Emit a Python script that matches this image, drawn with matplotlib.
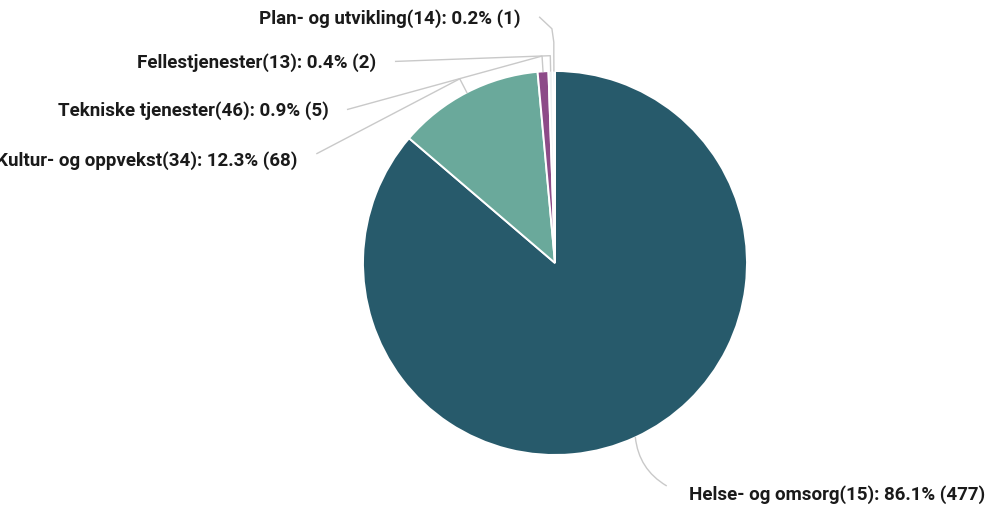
import numpy as np
import matplotlib
matplotlib.use("Agg")
import matplotlib.pyplot as plt

# data
labels = [
    "Helse- og omsorg(15): 86.1% (477)",
    "Kultur- og oppvekst(34): 12.3% (68)",
    "Tekniske tjenester(46): 0.9% (5)",
    "Fellestjenester(13): 0.4% (2)",
    "Plan- og utvikling(14): 0.2% (1)",
]
counts = [477, 68, 5, 2, 1]
colors = ["#275a6b", "#6aa99b", "#8d4b88", "#eef2f3", "#a5d8e3"]

# label anchors (data units, pie radius = 1), right end of text
label_pos = [
    (0.70, -1.20),
    (-1.34, 0.54),
    (-1.18, 0.80),
    (-0.93, 1.05),
    (-0.18, 1.28),
]

plt.rcParams["font.family"] = ["Roboto", "DejaVu Sans"]

fig = plt.figure(figsize=(9.88, 5.10), dpi=100)
ax = fig.add_axes([363 / 988, 54 / 510, 384 / 988, 384 / 510])

wedges, _ = ax.pie(
    counts,
    colors=colors,
    startangle=90,
    counterclock=False,
    radius=1,
    wedgeprops=dict(edgecolor="white", linewidth=1.4),
)
ax.set_xlim(-1, 1)
ax.set_ylim(-1, 1)
ax.axis("off")

line_col = "#c9c9c9"
txt_kw = dict(fontsize=13.5, fontweight="bold", color="#1a1a1a", va="center")

for i, (w, lab, (tx, ty)) in enumerate(zip(wedges, labels, label_pos)):
    mid = np.deg2rad((w.theta1 + w.theta2) / 2)
    rim = (np.cos(mid), np.sin(mid))
    if i == 0:
        ax.text(tx, ty, lab, ha="left", **txt_kw)
        ax.annotate(
            "", xy=rim, xytext=(tx - 0.12, ty + 0.04),
            arrowprops=dict(arrowstyle="-", color=line_col, lw=1.0,
                            connectionstyle="arc3,rad=-0.25",
                            shrinkA=0, shrinkB=0),
            annotation_clip=False,
        )
        continue
    ax.text(tx, ty, lab, ha="right", clip_on=False, **txt_kw)
    elbow = (1.08 * np.cos(mid), 1.08 * np.sin(mid))
    start = (tx + 0.1, ty + (0.03 if i == 1 else 0.0))
    xs = [start[0]]
    ys = [start[1]]
    if i == 4:
        xs += [elbow[0] - 0.01, elbow[0]]
        ys += [1.22, 1.15]
    xs += [elbow[0], rim[0]]
    ys += [elbow[1], rim[1]]
    ax.plot(xs, ys, color=line_col, lw=1.0, clip_on=False)

fig.savefig("out.png", dpi=100)
